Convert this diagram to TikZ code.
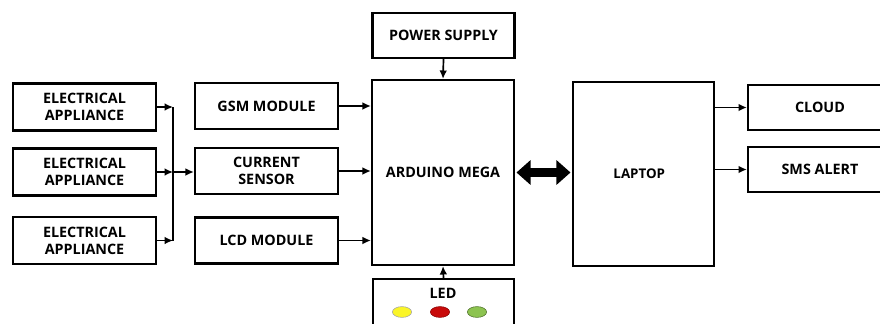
\documentclass[tikz,border=0pt]{standalone}
\usepackage{fontspec}
\setmainfont{Open Sans}
\usepackage{tikz}
\usetikzlibrary{positioning,arrows.meta,shapes.geometric,calc}

\definecolor{ledyellow}{RGB}{250,245,40}
\definecolor{ledred}{RGB}{200,10,10}
\definecolor{ledgreen}{RGB}{140,195,80}

\tikzset{
    block/.style = {draw, line width=1.5pt, rectangle, align=center,
        inner sep=0pt, font=\fontsize{10.2}{12}\selectfont\bfseries},
    smallblock/.style = {block, minimum width=3.575cm, minimum height=1.175cm},
    bigblock/.style = {block, minimum width=3.55cm, minimum height=4.6cm},
    arr/.style = {line width=1.2pt, -{Latex[length=6pt,width=5.5pt]}},
    bigarr/.style = {line width=6pt, {Triangle[length=10pt,width=17pt]}-{Triangle[length=10pt,width=17pt]}, shorten <=1pt, shorten >=1pt},
    lamp/.style = {ellipse, draw=black!35, line width=0.4pt, minimum width=0.48cm, minimum height=0.27cm, inner sep=0pt}
}

\begin{document}
\begin{tikzpicture}[x=0.025cm, y=-0.025cm]
    \useasboundingbox (0,0) rectangle (880,323);

    % appliances
    \node[smallblock] (app1) at (84.5,107) {ELECTRICAL\\APPLIANCE};
    \node[smallblock] (app2) at (84.5,172) {ELECTRICAL\\APPLIANCE};
    \node[smallblock] (app3) at (84.5,240.5) {ELECTRICAL\\APPLIANCE};

    % modules
    \node[smallblock, minimum height=1.15cm] (gsm) at (266.5,106) {GSM MODULE};
    \node[smallblock, minimum height=1.15cm] (sensor) at (266.5,171) {CURRENT\\SENSOR};
    \node[smallblock, minimum height=1.15cm] (lcd) at (266.5,240.5) {LCD MODULE};

    % controller
    \node[block, minimum width=3.55cm, minimum height=1.125cm] (power) at (443.5,35.5) {POWER SUPPLY};
    \node[bigblock, minimum height=4.625cm] (mega) at (443,172.5) {ARDUINO MEGA};
    \node[block, minimum width=3.525cm, minimum height=1.55cm] (led) at (443.5,310) {};
    \node[font=\fontsize{10.2}{12}\selectfont\bfseries] (ledtext) at (443,293) {LED};
    \node[lamp, fill=ledyellow] (yellowled) at (402,312) {};
    \node[lamp, fill=ledred, draw=ledred!70!black] (redled) at (440,312) {};
    \node[lamp, fill=ledgreen, draw=ledgreen!60!black] (greenled) at (477,312) {};

    % laptop and outputs
    \node[bigblock, minimum width=3.525cm, font=\fontsize{9.5}{11}\selectfont\bfseries] (laptop) at (643.5,174) {LAPTOP\hspace{6pt}};
    \node[block, minimum width=3.6cm, minimum height=1.125cm] (cloud) at (820,107.5) {CLOUD};
    \node[block, minimum width=3.6cm, minimum height=1.125cm] (sms) at (820,169.5) {SMS ALERT};

    % bus from the appliances
    \coordinate (bus) at (173,174);
    \draw[arr] (app1.east) -- (app1.east -| bus);
    \draw[arr] (app2.east) -- (app2.east -| bus);
    \draw[arr] (app3.east) -- (app3.east -| bus);
    \draw[line width=1.4pt] (app1.east -| bus) -- (app3.east -| bus);
    \draw[arr] (app2.east -| bus) -- (app2.east -| sensor.west);

    % into the arduino
    \draw[arr] (gsm.east) -- (gsm.east -| mega.west);
    \draw[arr] (sensor.east) -- (sensor.east -| mega.west);
    \draw[arr] (lcd.east) -- (lcd.east -| mega.west);
    \draw[arr] (power.south) -- (mega.north);
    \draw[arr] (led.north) -- (mega.south);

    \draw[bigarr] (mega.east) -- (mega.east -| laptop.west);

    % out of the laptop
    \draw[arr] (laptop.east |- cloud) -- (cloud.west);
    \draw[arr] (laptop.east |- sms) -- (sms.west);
\end{tikzpicture}
\end{document}
